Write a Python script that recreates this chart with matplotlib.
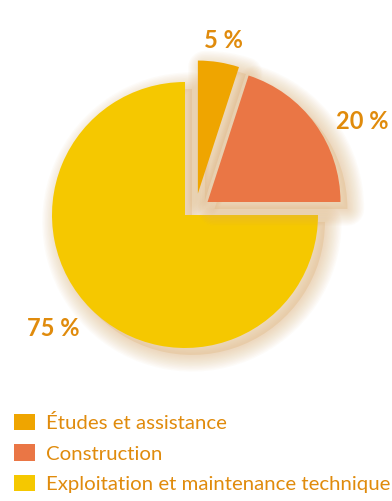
import matplotlib
matplotlib.use("Agg")
import numpy as np
import matplotlib.pyplot as plt
import matplotlib.patheffects as pe

categories = ["Études et assistance", "Construction", "Exploitation et maintenance technique"]
values = [5, 20, 75]
pct_labels = ["5 %", "20 %", "75 %"]
colors = ["#EFA500", "#EA7645", "#F5C800"]
explode_dist = [25, 26, 0]      # pixels
explode_dir = [59, 30, 0]       # degrees (direction of pull-out)
text_color = "#E08B0C"

W, H = 392, 501
fig = plt.figure(figsize=(W / 100, H / 100), dpi=100)
ax = fig.add_axes([0, 0, 1, 1])


class Glow(pe.AbstractPathEffect):
    def __init__(self, offset=(5, -5), color="#DDAE72", widths=tuple(range(24, 0, -2)), alpha=0.045):
        super().__init__(offset)
        self.color = color
        self.widths = widths
        self.alpha = alpha

    def draw_path(self, renderer, gc, tpath, affine, rgbFace):
        trans = affine + self._offset_transform(renderer)
        for lw in self.widths:
            gc0 = renderer.new_gc()
            gc0.copy_properties(gc)
            gc0.set_linewidth(lw)
            gc0.set_foreground(self.color)
            gc0.set_alpha(self.alpha)
            gc0.set_joinstyle("round")
            renderer.draw_path(gc0, tpath, trans, None)
            gc0.restore()
        gc1 = renderer.new_gc()
        gc1.copy_properties(gc)
        gc1.set_linewidth(0)
        gc1.set_alpha(0.3)
        renderer.draw_path(gc1, tpath, trans, matplotlib.colors.to_rgb(self.color))
        gc1.restore()


cx, cy, r = 185, H - 215, 133
wedges, _ = ax.pie(values, colors=colors, startangle=90,
                   counterclock=False, center=(cx, cy), radius=r,
                   wedgeprops=dict(linewidth=0))
for w, d, a in zip(wedges, explode_dist, explode_dir):
    w.set_center((cx + d * np.cos(np.radians(a)), cy + d * np.sin(np.radians(a))))

ax.set_xlim(0, W)
ax.set_ylim(0, H)
ax.set_aspect("equal")
ax.axis("off")

wedges[2].set_zorder(0.5)
for w in wedges:
    w.set_path_effects([Glow(), pe.Normal()])

label_pos = [(223, H - 40), (362, H - 121), (53, H - 328)]
for t, (x, y) in zip(pct_labels, label_pos):
    ax.text(x, y, t, ha="center", va="center", fontsize=17, fontweight="bold",
            color=text_color, family="Lato")

leg = ax.legend(wedges, categories, loc="lower left", bbox_to_anchor=(0.035, 0.016),
                frameon=False, handlelength=1.05, handleheight=0.85, handletextpad=0.55,
                labelspacing=0.6, borderaxespad=0, borderpad=0,
                prop=dict(family="Lato", size=14.7))
for t in leg.get_texts():
    t.set_color(text_color)
for h in leg.legend_handles:
    h.set_path_effects([])

fig.savefig("out.png", dpi=100)
